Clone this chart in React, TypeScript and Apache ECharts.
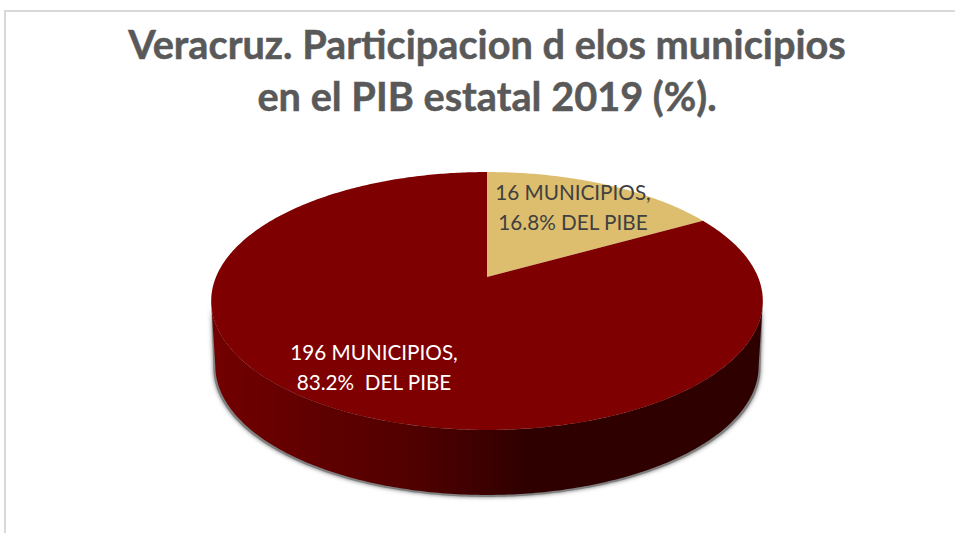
import React, { useEffect, useRef } from "react";
import * as echarts from "echarts";

const titleText = "Veracruz. Participacion d elos municipios\nen el PIB estatal 2019 (%).";
const sliceNames = ["16 municipios", "196 municipios"];
const sliceValues = [16.8, 83.2];
const sliceLabels = ["16 MUNICIPIOS,\n16.8% DEL PIBE", "196 MUNICIPIOS,\n83.2%  DEL PIBE"];
const sliceColors = ["#dcbe6e", "#7f0000"];
const labelColors = ["#404040", "#ffffff"];
const labelCentres = [[573, 207], [374, 367]];

const total = sliceValues.reduce((a, b) => a + b, 0);
const cx = 487;
const apexY = 277;
const scaleX = 271;
const depthA = 124.5;
const depthC = 0.186;
const wallDrop = 65;
const wallShrink = 0.985;
// Angle at which the projected rim reaches its widest point
const sideAngle = Math.acos(-depthC);

function project(angle: number, r: number, drop = 0, shrink = 1): number[] {
  const u = Math.sin(angle) * r;
  const v = Math.cos(angle) * r;
  const w = 1 + depthC * v;
  return [cx + (shrink * scaleX * u) / w, apexY + drop - (depthA * v) / w];
}

function arcPoints(a0: number, a1: number, drop = 0, shrink = 1): number[][] {
  const n = Math.max(2, Math.ceil(Math.abs(a1 - a0) / 0.012));
  const out: number[][] = [];
  for (let i = 0; i <= n; i++) out.push(project(a0 + ((a1 - a0) * i) / n, 1, drop, shrink));
  return out;
}

const wallGradient = new echarts.graphic.LinearGradient(
  215, 0, 757, 0,
  [
    { offset: 0, color: "#720000" },
    { offset: 0.16, color: "#620000" },
    { offset: 0.35, color: "#520000" },
    { offset: 0.5, color: "#3c0000" },
    { offset: 0.58, color: "#2e0000" },
    { offset: 1, color: "#2e0000" },
  ],
  true
);

function renderSlice(params: any, api: any) {
  const idx = params.dataIndex;
  let before = 0;
  for (let i = 0; i < idx; i++) before += sliceValues[i];
  const a0 = (before / total) * Math.PI * 2;
  const a1 = ((before + api.value(0)) / total) * Math.PI * 2;
  const children: any[] = [];

  // Visible front wall: the part of this slice's rim on the near side
  const f0 = Math.max(a0, sideAngle);
  const f1 = Math.min(a1, Math.PI * 2 - sideAngle);
  if (f1 > f0) {
    const topRim = arcPoints(f0, f1);
    // soft grey shadow just outside the wall
    children.push({
      type: "polygon",
      shape: { points: topRim.concat(arcPoints(f1, f0, wallDrop + 2, wallShrink + 0.007)) },
      style: {
        fill: "#808080",
        shadowBlur: 4,
        shadowColor: "rgba(80,80,80,0.8)",
      },
    });
    children.push({
      type: "polygon",
      shape: { points: topRim.concat(arcPoints(f1, f0, wallDrop, wallShrink)) },
      style: { fill: wallGradient },
    });
  }

  // Top face
  children.push({
    type: "polygon",
    shape: { points: [[cx, apexY]].concat(arcPoints(a0, a1)) },
    style: { fill: sliceColors[idx] },
  });
  return { type: "group", children };
}

function renderLabel(params: any) {
  const idx = params.dataIndex;
  return {
    type: "text",
    x: labelCentres[idx][0],
    y: labelCentres[idx][1],
    style: {
      text: sliceLabels[idx],
      fill: labelColors[idx],
      font: '20.7px Lato',
      lineHeight: 30,
      align: "center",
      verticalAlign: "middle",
    },
  };
}

export default function App() {
  const ref = useRef<HTMLDivElement>(null);
  useEffect(() => {
    const chart = echarts.init(ref.current!, undefined, { renderer: "svg" });
    const data = sliceValues.map((v, i) => ({ name: sliceNames[i], value: [v] }));
    chart.setOption({
      animation: false,
      backgroundColor: "#ffffff",
      title: {
        text: titleText,
        left: 482,
        top: 12,
        textAlign: "center",
        textStyle: {
          fontFamily: "Lato",
          fontWeight: "bold",
          fontSize: 39.7,
          lineHeight: 52,
          color: "#595959",
          textBorderColor: "#595959",
          textBorderWidth: 0.5,
        },
      },
      graphic: [
        {
          type: "polyline",
          silent: true,
          shape: { points: [[5, 533], [5, 11], [955, 11]] },
          style: { stroke: "#d9d9d9", lineWidth: 2, fill: "none" },
        },
      ],
      series: [
        { type: "custom", coordinateSystem: "none", silent: true, renderItem: renderSlice, data, z: 2 },
        { type: "custom", coordinateSystem: "none", silent: true, renderItem: renderLabel, data, z: 3 },
      ],
    });
    return () => chart.dispose();
  }, []);
  return <div ref={ref} style={{ position: "absolute", left: 0, top: 0, width: 955, height: 533 }} />;
}
